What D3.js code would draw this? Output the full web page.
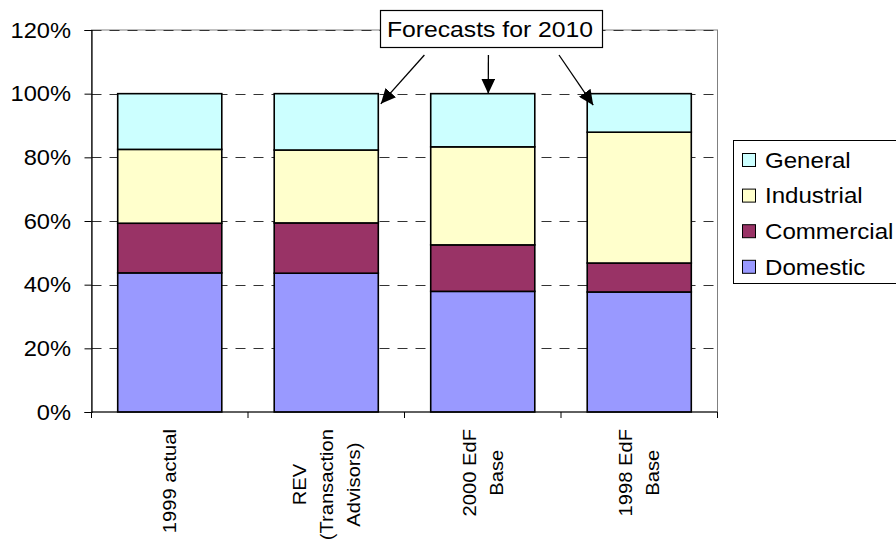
<!DOCTYPE html>
<html>
<head>
<meta charset="utf-8">
<script src="https://cdn.jsdelivr.net/npm/d3@7"></script>
<style>
  html, body { margin: 0; padding: 0; background: #fff; }
  svg { display: block; }
  text { font-family: "Liberation Sans", Arial, sans-serif; fill: #000; }
</style>
</head>
<body>
<svg id="chart" width="896" height="539"></svg>
<script>
// ---- data ----
const categories = ["1999 actual", "REV (Transaction Advisors)", "2000 EdF Base", "1998 EdF Base"];
const categoryLines = [["1999 actual"], ["REV", "(Transaction", "Advisors)"], ["2000 EdF", "Base"], ["1998 EdF", "Base"]];
const seriesNames = ["Domestic", "Commercial", "Industrial", "General"];
const domestic   = [43.7, 43.6, 37.9, 37.7];
const commercial = [15.6, 15.8, 14.6, 9.1];
const industrial = [23.2, 22.9, 30.8, 41.1];
const general    = [17.5, 17.7, 16.7, 12.1];
const yTicks = [0, 20, 40, 60, 80, 100, 120];
const seriesColors = ["#9999FF", "#993366", "#FFFFCC", "#CCFFFF"];
const annotationText = "Forecasts for 2010";

// ---- build table ----
const seriesValues = [domestic, commercial, industrial, general];
const table = categories.map((c, i) => {
  const row = { category: c };
  seriesNames.forEach((s, j) => row[s] = seriesValues[j][i]);
  return row;
});
const stacked = d3.stack().keys(seriesNames)(table);

// ---- layout ----
const svg = d3.select("#chart");
const plotLeft = 91.5, plotRight = 717.5, plotTop = 30, plotBottom = 412;

const x = d3.scaleBand().domain(categories).range([plotLeft, plotRight])
  .paddingInner(0.335).paddingOuter(0.1675);
const y = d3.scaleLinear().domain([0, 120]).range([plotBottom, plotTop]);
const color = d3.scaleOrdinal().domain(seriesNames).range(seriesColors);

// plot area border (gray)
svg.append("rect")
  .attr("x", plotLeft).attr("y", plotTop)
  .attr("width", plotRight - plotLeft).attr("height", plotBottom - plotTop)
  .attr("fill", "none").attr("stroke", "#808080").attr("stroke-width", 1);

// dashed gridlines
svg.append("g").selectAll("line")
  .data(yTicks.filter(t => t > 0))
  .join("line")
  .attr("x1", plotLeft).attr("x2", plotRight)
  .attr("y1", d => Math.round(y(d)) + 0.5).attr("y2", d => Math.round(y(d)) + 0.5)
  .attr("stroke", "#333").attr("stroke-width", 1)
  .attr("stroke-dasharray", "10,8");

// bars
svg.append("g").selectAll("g")
  .data(stacked)
  .join("g")
  .attr("fill", d => color(d.key))
  .selectAll("rect")
  .data(d => d)
  .join("rect")
  .attr("x", d => x(d.data.category))
  .attr("y", d => y(d[1]))
  .attr("width", x.bandwidth())
  .attr("height", d => y(d[0]) - y(d[1]))
  .attr("stroke", "#000").attr("stroke-width", 1.6);

// y axis
const yAxis = svg.append("g")
  .attr("transform", `translate(${plotLeft},0)`)
  .call(d3.axisLeft(y).tickValues(yTicks).tickSize(7).tickFormat(d => d + "%"));
yAxis.select(".domain").attr("stroke", "#000").attr("stroke-width", 1.2);
yAxis.selectAll(".tick line").attr("stroke", "#000");
yAxis.selectAll(".tick text").remove();
const ySx = 1.1;
svg.append("g").selectAll("text")
  .data(yTicks)
  .join("text")
  .attr("transform", d => `translate(71,${y(d)}) scale(${ySx},1)`)
  .attr("text-anchor", "end")
  .attr("dy", "0.35em")
  .style("font-size", "21.5px")
  .text(d => d + "%");

// x axis line and ticks at category boundaries
svg.append("line")
  .attr("x1", plotLeft).attr("x2", plotRight)
  .attr("y1", plotBottom).attr("y2", plotBottom)
  .attr("stroke", "#000").attr("stroke-width", 1.2);
const boundaries = d3.range(categories.length + 1).map(i => plotLeft + i * x.step());
svg.append("g").selectAll("line")
  .data(boundaries)
  .join("line")
  .attr("x1", d => d).attr("x2", d => d)
  .attr("y1", plotBottom).attr("y2", plotBottom + 6)
  .attr("stroke", "#000").attr("stroke-width", 1);

// x labels (rotated, multi-line, centered)
const xSx = 1.12, xFont = 18, lineGap = 27, capShift = 6.5, labelTop = 429;
categories.forEach((c, i) => {
  const lines = categoryLines[i];
  const cx = x(c) + x.bandwidth() / 2;
  const g = svg.append("g");
  const texts = lines.map((ln, k) => g.append("text")
    .attr("text-anchor", "middle")
    .style("font-size", xFont + "px")
    .text(ln));
  const maxLen = d3.max(texts, t => t.node().getComputedTextLength()) * xSx;
  const cy = labelTop + maxLen / 2;
  texts.forEach((t, k) => {
    const bx = cx + (k - (lines.length - 1) / 2) * lineGap + capShift;
    t.attr("transform", `translate(${bx},${cy}) rotate(-90) scale(${xSx},1)`);
  });
});

// legend
const legendX = 733.5, legendY = 140.5, legendRow = 35.6;
const legend = svg.append("g");
legend.append("rect")
  .attr("x", legendX).attr("y", legendY)
  .attr("width", 200).attr("height", 143)
  .attr("fill", "#fff").attr("stroke", "#000").attr("stroke-width", 1);
const legendOrder = seriesNames.slice().reverse();
const items = legend.selectAll("g.item")
  .data(legendOrder)
  .join("g")
  .attr("class", "item")
  .attr("transform", (d, i) => `translate(${legendX},${legendY + 19.5 + i * legendRow})`);
items.append("rect")
  .attr("x", 9).attr("y", -6.5).attr("width", 13).attr("height", 13)
  .attr("fill", d => color(d)).attr("stroke", "#000").attr("stroke-width", 1);
items.append("text")
  .attr("transform", "translate(31.5,0) scale(1.07,1)")
  .attr("dy", "0.35em")
  .style("font-size", "22.5px")
  .text(d => d);

// annotation: arrows
const defs = svg.append("defs");
defs.append("marker")
  .attr("id", "arrowhead")
  .attr("markerUnits", "userSpaceOnUse")
  .attr("viewBox", "0 0 15 14")
  .attr("refX", 15).attr("refY", 7)
  .attr("markerWidth", 15).attr("markerHeight", 14)
  .attr("orient", "auto")
  .append("path").attr("d", "M0,0 L15,7 L0,14 Z").attr("fill", "#000");

const arrowStarts = [[424.4, 55], [488.4, 55], [559, 55]];
const bw = x.bandwidth();
const arrowEnds = [
  [x(categories[1]) + bw + 2.5, y(96.8)],
  [x(categories[2]) + bw / 2 + 5.5, y(100)],
  [x(categories[3]) + 6, y(96.4)]
];
svg.append("g").selectAll("line")
  .data(arrowStarts.map((s, i) => [s, arrowEnds[i]]))
  .join("line")
  .attr("x1", d => d[0][0]).attr("y1", d => d[0][1])
  .attr("x2", d => d[1][0]).attr("y2", d => d[1][1])
  .attr("stroke", "#000").attr("stroke-width", 1.3)
  .attr("marker-end", "url(#arrowhead)");

// annotation box
svg.append("rect")
  .attr("x", 380.5).attr("y", 10.5).attr("width", 222).attr("height", 37)
  .attr("fill", "#fff").attr("stroke", "#000").attr("stroke-width", 1.2);
svg.append("text")
  .attr("transform", "translate(490,29.2) scale(1.1,1)")
  .attr("text-anchor", "middle")
  .attr("dy", "0.35em")
  .style("font-size", "22.5px")
  .text(annotationText);
</script>
</body>
</html>
